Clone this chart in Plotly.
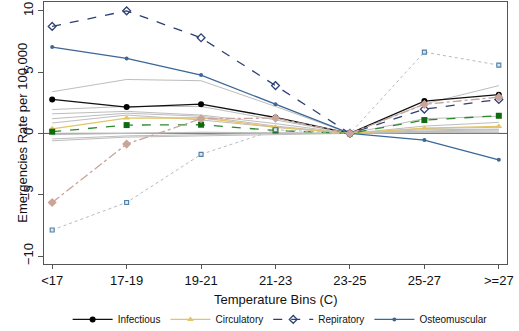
import plotly.graph_objects as go

bins = ["<17", "17-19", "19-21", "21-23", "23-25", "25-27", ">=27"]

infectious = [2.77, 2.15, 2.39, 1.3, 0, 2.64, 3.16]
circulatory = [0.38, 1.25, 1.28, 0.51, 0, 0.43, 0.57]
repiratory = [8.73, 10.0, 7.8, 3.9, 0, 1.98, 2.77]
osteomuscular = [7.04, 6.12, 4.76, 2.37, 0, -0.54, -2.15]
green_series = [0.14, 0.68, 0.71, 0.24, 0, 1.09, 1.44]
pink_series = [-5.63, -0.87, 1.2, 1.25, 0, 2.37, 2.96]
dotted_series = [-7.88, -5.63, -1.71, 0.3, 0, 6.63, 5.57]

grey_series = [
    [3.4, 4.4, 4.3, 2.2, 0, 2.4, 3.9],
    [1.95, 2.2, 2.2, 1.1, 0, 1.2, 1.4],
    [1.6, 1.8, 1.5, 0.8, 0, 0.6, 0.9],
    [1.2, 1.65, 1.4, 0.6, 0, 0.4, 0.5],
    [0.85, 1.5, 1.1, 0.5, 0, 0.3, 0.35],
    [-0.45, -0.2, -0.1, 0.0, 0, 0.15, 0.2],
    [-0.6, -0.3, -0.2, -0.1, 0, 0.1, 0.1],
    [0.0, 0.05, 0.05, 0.02, 0, 0.05, 0.05],
    [-0.1, 0.0, 0.1, 0.05, 0, 0.2, 0.3],
]

x_title = "Temperature Bins (C)"
y_title = "Emergencies Rate per 100,000"

xi = list(range(len(bins)))
fig = go.Figure()

for g in grey_series:
    fig.add_trace(go.Scatter(x=xi, y=g, mode="lines", showlegend=False,
                             line=dict(color="#BDBDBD", width=1), hoverinfo="skip"))

fig.add_trace(go.Scatter(x=xi, y=infectious, mode="lines+markers", name="Infectious",
                         line=dict(color="#111111", width=1.3),
                         marker=dict(symbol="circle", size=6, color="#000000")))
fig.add_trace(go.Scatter(x=xi, y=circulatory, mode="lines+markers", name="Circulatory",
                         line=dict(color="#E3C466", width=1.3),
                         marker=dict(symbol="triangle-up", size=6, color="#E3C466")))
fig.add_trace(go.Scatter(x=xi, y=green_series, mode="lines+markers", showlegend=False,
                         line=dict(color="#2A8A2A", width=1.3, dash="dash"),
                         marker=dict(symbol="square", size=6, color="#0F6B0F")))
fig.add_trace(go.Scatter(x=xi, y=osteomuscular, mode="lines+markers", name="Osteomuscular",
                         line=dict(color="#3A6796", width=1.3),
                         marker=dict(symbol="circle", size=4, color="#3A6796")))
fig.add_trace(go.Scatter(x=xi, y=repiratory, mode="lines+markers", name="Repiratory",
                         line=dict(color="#2D3F73", width=1.3, dash="dash"),
                         marker=dict(symbol="diamond-open", size=6, color="#2D3F73",
                                     line=dict(width=1.3))))
fig.add_trace(go.Scatter(x=xi, y=dotted_series, mode="lines+markers", showlegend=False,
                         line=dict(color="#B4BAC2", width=1, dash="dot"),
                         marker=dict(symbol="square", size=4, color="#DDE6EE",
                                     line=dict(color="#4F7FA8", width=1.1))))
fig.add_trace(go.Scatter(x=xi, y=pink_series, mode="lines+markers", showlegend=False,
                         line=dict(color="#C9A49B", width=1.3, dash="dashdot"),
                         marker=dict(symbol="diamond", size=7, color="#C9A49B")))

fig.add_shape(type="line", xref="paper", yref="y", x0=0, x1=1, y0=0, y1=0,
              line=dict(color="#555555", width=1), layer="below")

fig.add_annotation(text=x_title, xref="paper", yref="paper", x=0.5, y=-0.135,
                   xanchor="center", yanchor="middle", showarrow=False,
                   font=dict(size=13))
fig.add_annotation(text=y_title, xref="paper", yref="paper", x=-0.048, y=0.5,
                   xanchor="center", yanchor="middle", showarrow=False, textangle=-90,
                   font=dict(size=13))

fig.update_layout(
    width=519, height=331,
    margin=dict(l=44, r=12, t=2, b=67),
    plot_bgcolor="white", paper_bgcolor="white",
    font=dict(family="Liberation Sans, Arial, sans-serif", color="#111111"),
    legend=dict(orientation="h", x=0.51, xanchor="center", yref="container",
                y=0.035, yanchor="middle",
                font=dict(size=10), itemwidth=40, traceorder="normal",
                bgcolor="rgba(0,0,0,0)"),
    xaxis=dict(range=[-0.11, 6.11], tickmode="array", tickvals=xi, ticktext=bins,
               showgrid=False, zeroline=False, showline=True, linecolor="#555555",
               mirror=True, ticks="outside", ticklen=4, tickcolor="#555555",
               tickfont=dict(size=13), automargin=False),
    yaxis=dict(range=[-10.65, 10.72], tickvals=[-10, -5, 0, 5, 10],
               showgrid=False, zeroline=False, showline=True, linecolor="#555555",
               mirror=True, ticks="outside", ticklen=5, tickcolor="#555555",
               tickangle=-90, tickfont=dict(size=13), automargin=False),
)

order = ["Infectious", "Circulatory", "Repiratory", "Osteomuscular"]
for t in fig.data:
    if t.name in order:
        t.legendrank = order.index(t.name) + 1

fig.write_html("out.html")
